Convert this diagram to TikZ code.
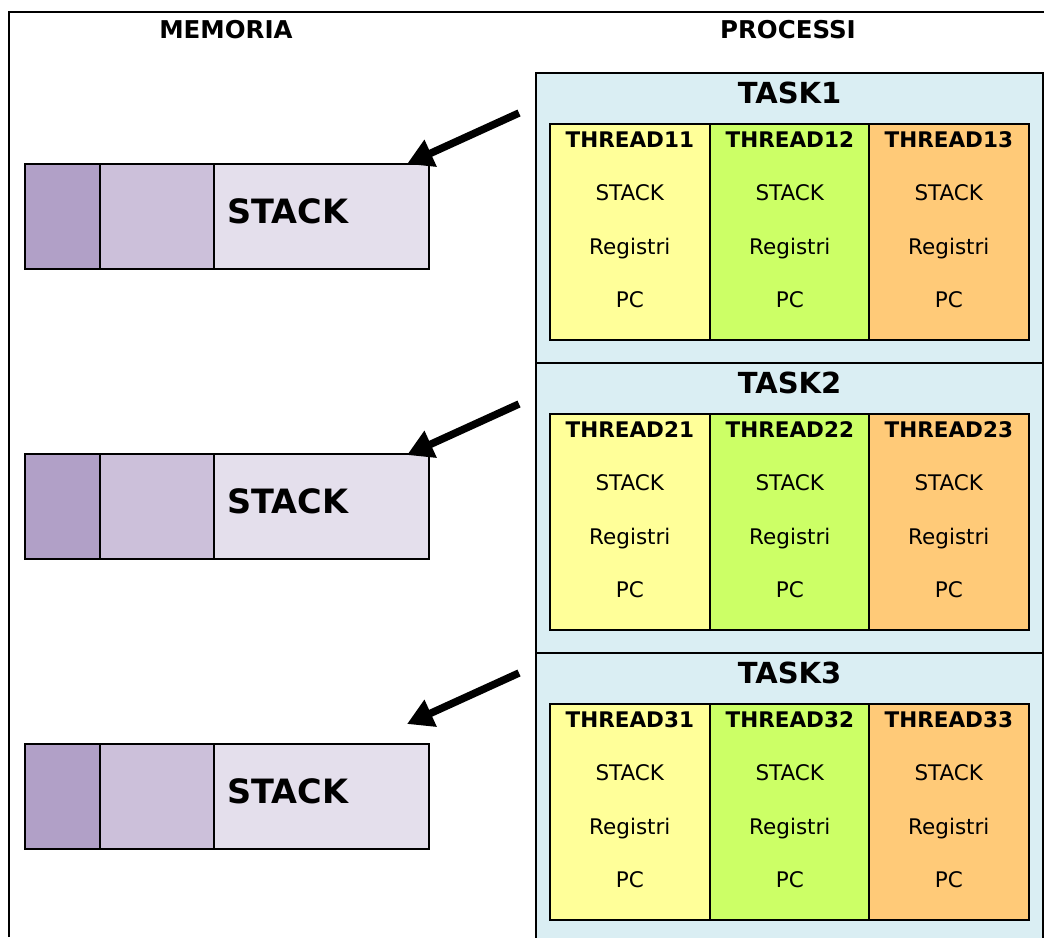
\documentclass[tikz,border=0pt]{standalone}
\usepackage{fontspec}
\setmainfont{DejaVu Sans}
\usetikzlibrary{positioning,arrows.meta}

\definecolor{memdark}{HTML}{B1A0C7}
\definecolor{memmid}{HTML}{CCC0DA}
\definecolor{memlight}{HTML}{E4DFEC}
\definecolor{taskbg}{HTML}{DAEEF3}
\definecolor{thyellow}{HTML}{FFFF99}
\definecolor{thgreen}{HTML}{CCFF66}
\definecolor{thorange}{HTML}{FFCA78}

\begin{document}
\begin{tikzpicture}[x=1pt,y=-1pt,inner sep=0pt,node distance=53.5pt,on grid,
  box/.style={draw,line width=1.6pt,anchor=north west},
  headtext/.style={font=\fontsize{24.5}{28}\selectfont\bfseries},
  tasktext/.style={font=\fontsize{29}{33}\selectfont\bfseries},
  thrhead/.style={font=\fontsize{21.5}{24}\selectfont\bfseries,text depth=0pt},
  thrtext/.style={font=\fontsize{21.5}{24}\selectfont,text depth=0pt},
  memtext/.style={font=\fontsize{33.5}{38}\selectfont\bfseries},
  pointer/.style={line width=7.5pt,-{Triangle[length=26pt,width=28pt]}}]
\useasboundingbox (0,0) rectangle (1044,937);
% frame and titles
\draw[line width=1.6pt] (9,937) -- (9,12) -- (1044,12);
\node[headtext] (memoria)  at (226,30) {MEMORIA};
\node[headtext] (processi) at (788,30) {PROCESSI};
% one row for each task
\foreach \t/\top/\ay in {1/72/113, 2/362/404, 3/652/673} {
  \node[box,line width=2.2pt,fill=taskbg,minimum width=507pt,minimum height=290pt] (task\t) at (535,\top) {};
  \node[tasktext] (tl\t) at ([yshift=-21pt]task\t.north) {TASK\t};
  \foreach \c/\col/\x in {1/thyellow/549, 2/thgreen/709, 3/thorange/868} {
    \node[box,fill=\col,minimum width=160pt,minimum height=216pt] (th\t\c) at (\x,{\top+51}) {};
    \node[thrhead] (hd\t\c) at ([yshift=-16.5pt]th\t\c.north) {THREAD\t\c};
    \node[thrtext,below=of hd\t\c] (st\t\c) {STACK};
    \node[thrtext,below=of st\t\c] (rg\t\c) {Registri};
    \node[thrtext,below=of rg\t\c] (pc\t\c) {PC};
  }
  % memory stack
  \node[box,fill=memdark,minimum width=75pt,minimum height=105pt]   (ma\t) at (24,{\top+91}) {};
  \node[box,fill=memmid,minimum width=114pt,minimum height=105pt]   (mb\t) at (99,{\top+91}) {};
  \node[box,fill=memlight,minimum width=215pt,minimum height=105pt] (mc\t) at (213,{\top+91}) {};
  \node[memtext,anchor=west] (ms\t) at ([xshift=14pt,yshift=5pt]mc\t.west) {STACK};
  \coordinate (from\t) at (519,\ay);
  \coordinate (to\t)   at (407,{\ay+51});
  \draw[pointer] (from\t) -- (to\t);
}
\end{tikzpicture}
\end{document}
